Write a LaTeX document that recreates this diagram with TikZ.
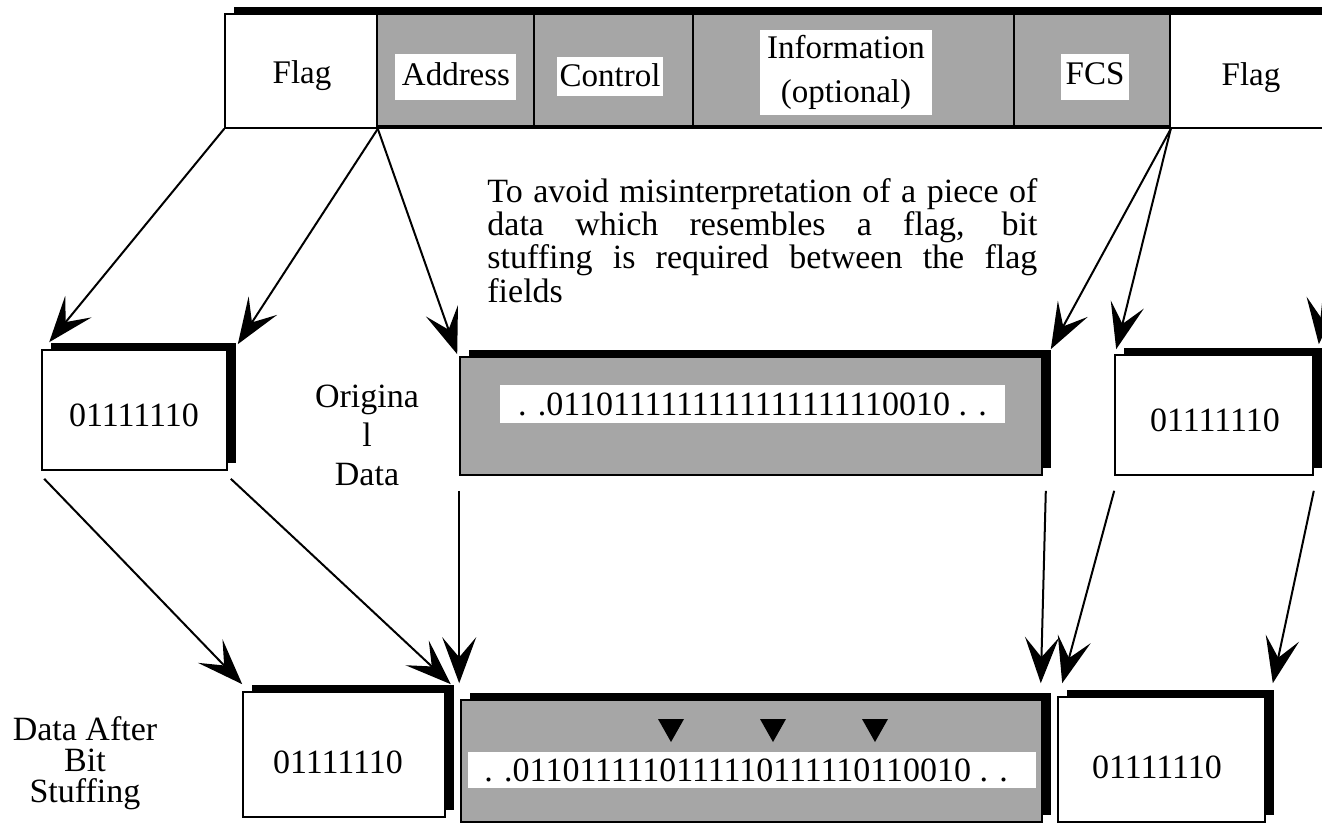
\documentclass[tikz,border=0pt]{standalone}
\usepackage{fontspec}
\setmainfont{Liberation Serif}
\usetikzlibrary{arrows.meta,fit,shadows,calc}
\hbadness=10000
\begin{document}
\begin{tikzpicture}[x=0.5pt,y=-0.5pt,
  every node/.style={inner sep=0pt},
  lab/.style={font=\fontsize{16.5}{19}\selectfont},
  dig/.style={font=\fontsize{17}{20}\selectfont},
  frame/.style={draw, line width=0.8pt, fill=white,
    general shadow={fill=black, shadow xshift=4.5pt, shadow yshift=3.4pt}},
  cell/.style={draw, line width=0.8pt},
  grey/.style={fill=black!35},
  band/.style={fill=white},
  arr/.style={line width=1pt, -{Stealth[length=23pt,width=17pt,inset=10pt]}}
]
\useasboundingbox (0,0) rectangle (1322,834);
\clip (0,0) rectangle (1322,834);
\fill[white] (0,0) rectangle (1322,834);

% header frame
\node[frame, fit={(225,14)(1340,128)}] (hdr) {};
\node[cell, fit={(225,14)(377,128)}] (hflag1) {};
\node[cell, grey, fit={(377,14)(534,128)}] (haddr) {};
\node[cell, grey, fit={(534,14)(693,128)}] (hctrl) {};
\node[cell, grey, fit={(693,14)(1014,128)}] (hinfo) {};
\node[cell, grey, fit={(1014,14)(1170,128)}] (hfcs) {};
\node[cell, fit={(1170,14)(1340,128)}] (hflag2) {};
\draw[line width=2pt] ([yshift=1pt]haddr.south west) -- ([yshift=1pt]hfcs.south east);

\node[band, fit={(395,54)(516,100)}] (baddr) {};
\node[band, fit={(557,57)(663,96)}] (bctrl) {};
\node[band, fit={(760,30)(932,115)}] (binfo) {};
\node[band, fit={(1061,54)(1129,100)}] (bfcs) {};

\node[lab, anchor=base] (tflag1) at (302,84) {Flag};
\node[lab, anchor=base] (taddr) at (456,86) {Address};
\node[lab, anchor=base] (tctrl) at (610,87) {Control};
\node[align=center, font=\fontsize{16.5}{22}\selectfont] (tinfo) at (846,72) {Information\\(optional)};
\node[lab, anchor=base] (tfcs) at (1095,85) {FCS};
\node[lab, anchor=base] (tflag2) at (1251,86) {Flag};

% explanatory paragraph
\node[anchor=north west, text width=275pt, align=justify,
      font=\fontsize{17}{15.5}\selectfont] (para) at (487,178)
  {To avoid misinterpretation of a piece of\linebreak data which resembles a flag, bit\linebreak stuffing is required between the flag\linebreak fields};

% original data row
\node[frame, fit={(42,350)(227,470)}] (lf) {};
\node[dig] (tlf) at (134,415) {01111110};
\node[align=center, font=\fontsize{17}{19.5}\selectfont, anchor=north] (orig) at (367,385) {Origina\\l\\Data};
\node[frame, grey, fit={(460,357)(1042,475)}] (mf) {};
\node[band, fit={(500,385)(1005,423)}] (mband) {};
\node[dig] (tmf) at (mband.center) {. .0110111111111111111110010 . .};
\node[frame, fit={(1115,355)(1313,475)}] (rf) {};
\node[dig] (trf) at (1215,420) {01111110};

% stuffed data row
\node[align=center, font=\fontsize{17}{15.5}\selectfont, anchor=north] (after) at (85,716) {Data After\\Bit\\Stuffing};
\node[frame, fit={(243,692)(445,817)}] (lb) {};
\node[dig] (tlb) at (338,762) {01111110};
\node[frame, grey, fit={(461,700)(1042,822)}] (mb) {};
\node[band, fit={(468,752)(1036,788)}] (bband) {};
\node[dig, anchor=west] (tmb) at (484,770) {. .0110111110111110111110110010 . .};
\foreach \tx in {671,773,875}
  \fill (\tx-13,719) -- (\tx+13,719) -- (\tx,742) -- cycle;
\node[frame, fit={(1058,697)(1265,822)}] (rb) {};
\node[dig] (trb) at (1157,767) {01111110};

% connectors
\draw[arr] (hflag1.south west) -- ([shift={(8,-7)}]lf.north west);
\draw[arr] (hflag1.south east) -- ([shift={(10,-5)}]lf.north east);
\draw[arr] (hflag1.south east) -- ([shift={(-2,-2)}]mf.north west);
\draw[arr] (hfcs.south east) -- ([shift={(8,-7)}]mf.north east);
\draw[arr] (hfcs.south east) -- ([shift={(2,-5)}]rf.north west);
\draw[arr] (hflag2.south east) -- ([shift={(5,-10)}]rf.north east);
\draw[arr] ([shift={(3,8)}]lf.south west) -- ([shift={(0,-7)}]lb.north west);
\draw[arr] ([shift={(3,8)}]lf.south east) -- ([shift={(5,-7)}]lb.north east);
\draw[arr] ([shift={(0,15)}]mf.south west) -- ([shift={(-1,-16)}]mb.north west);
\draw[arr] ([shift={(3,15)}]mf.south east) -- ([shift={(-2,-16)}]mb.north east);
\draw[arr] ([shift={(0,15)}]rf.south west) -- ([shift={(5,-13)}]rb.north west);
\draw[arr] ([shift={(0,15)}]rf.south east) -- ([shift={(7,-13)}]rb.north east);
\end{tikzpicture}
\end{document}
